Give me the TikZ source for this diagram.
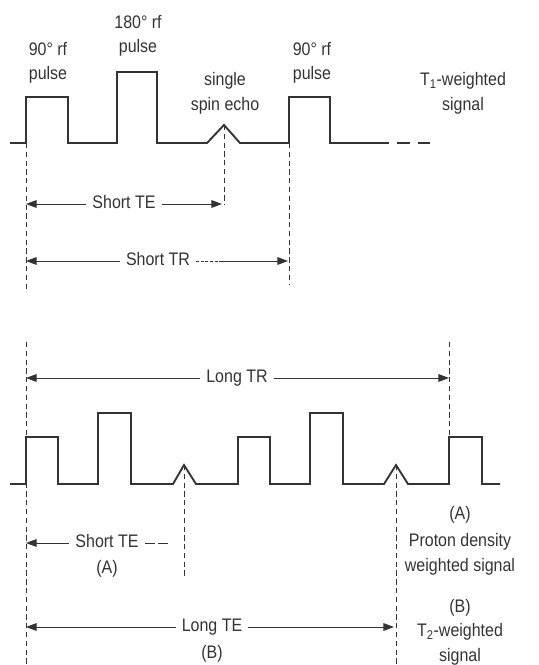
\documentclass[tikz,border=0pt]{standalone}
\usepackage{fontspec}
\setmainfont{Liberation Sans}[FakeStretch=0.88]
\usepackage{tikz}
\usetikzlibrary{arrows.meta,positioning}

\begin{document}
\begin{tikzpicture}[x=0.03cm, y=-0.03cm, font=\fontsize{15.5}{21}\selectfont, color=black!80]
    % Define styles
    \tikzstyle{wave} = [line width=1.6pt, line join=miter]
    \tikzstyle{guide} = [line width=0.6pt, dash pattern=on 4.5pt off 3pt]
    \tikzstyle{dim} = [line width=0.8pt, -{Triangle[length=9pt,width=6.5pt]}]
    \tikzstyle{dimlabel} = [inner xsep=5pt, inner ysep=1pt, text height=0.716em, text depth=0pt]
    \tikzstyle{pulselabel} = [align=center, inner sep=0pt]

    \useasboundingbox (0,0) rectangle (539,665);

    % Short TR sequence (T1-weighted)
    \draw[wave] (10,143) -- (26,143) -- (26,97) -- (68,97) -- (68,143) -- (117,143)
        -- (117,72) -- (157,72) -- (157,143) -- (207,143) -- (224,125) -- (240,143)
        -- (289,143) -- (289,97) -- (330,97) -- (330,143) -- (380,143);
    \draw[wave] (380,143) -- (389,143) (397,143) -- (410,143) (418,143) -- (430,143);

    \node[pulselabel] (p90a) at (48,63) {90° rf\\pulse};
    \node[pulselabel] (p180) at (138,36) {180° rf\\pulse};
    \node[pulselabel] (echo) at (225,93) {single\\spin echo};
    \node[pulselabel] (p90b) at (312,63) {90° rf\\pulse};
    \node[pulselabel] (t1w) at (463,93) {T\textsubscript{1}-weighted\\signal};

    % Guides
    \coordinate (a0) at (26,143);  \coordinate (a1) at (26,290);
    \coordinate (b0) at (224,125); \coordinate (b1) at (224,205);
    \coordinate (c0) at (289,143); \coordinate (c1) at (289,285);
    \draw[guide] (a0) -- (a1);
    \draw[guide] (b0) -- (b1);
    \draw[guide] (c0) -- (c1);

    % Short TE / Short TR
    \coordinate (teSl) at (26,204);  \coordinate (teSr) at (222,204);
    \node[dimlabel] (teS) at (124,204) {Short TE};
    \draw[dim] (teS.west) -- (teSl);
    \draw[dim] (teS.east) -- (teSr);

    \coordinate (trSl) at (26,261);  \coordinate (trSm) at (222,261);  \coordinate (trSr) at (288,261);
    \node[dimlabel] (trS) at (158,261) {Short TR};
    \draw[dim] (trS.west) -- (trSl);
    \draw[line width=0.6pt, dash pattern=on 2.5pt off 1.5pt] (trS.east) -- (trSm);
    \draw[dim] (trSm) -- (trSr);

    % Long TR sequence
    \draw[wave] (10,484) -- (26,484) -- (26,437) -- (58,437) -- (58,484) -- (98,484)
        -- (98,413) -- (131,413) -- (131,484) -- (173,484) -- (184,465) -- (196,484)
        -- (238,484) -- (238,437) -- (270,437) -- (270,484) -- (310,484) -- (310,413)
        -- (343,413) -- (343,484) -- (384,484) -- (396,465) -- (408,484) -- (449,484)
        -- (449,437) -- (482,437) -- (482,484) -- (500,484);

    % Guides
    \coordinate (d0) at (26,342);  \coordinate (d1) at (26,665);
    \coordinate (e0) at (449,342); \coordinate (e1) at (449,437);
    \coordinate (f0) at (184,465); \coordinate (f1) at (184,578);
    \coordinate (g0) at (396,465); \coordinate (g1) at (396,665);
    \draw[guide] (d0) -- (d1);
    \draw[guide] (e0) -- (e1);
    \draw[guide] (f0) -- (f1);
    \draw[guide] (g0) -- (g1);

    % Long TR
    \coordinate (trLl) at (26,378);  \coordinate (trLr) at (449,378);
    \node[dimlabel] (trL) at (237,378) {Long TR};
    \draw[dim] (trL.west) -- (trLl);
    \draw[dim] (trL.east) -- (trLr);

    % Short TE (A)
    \coordinate (teAl) at (26,543);  \coordinate (teAr) at (168,543);
    \node[dimlabel] (teA) at (107,543) {Short TE};
    \node[pulselabel] (teAtag) at (107,569) {(A)};
    \draw[dim] (teA.west) -- (teAl);
    \draw[line width=0.8pt, dash pattern=on 9pt off 2.5pt] (teA.east) -- (teAr);

    % Long TE (B)
    \coordinate (teBl) at (26,627);  \coordinate (teBr) at (394,627);
    \node[dimlabel] (teB) at (212,627) {Long TE};
    \node[pulselabel] (teBtag) at (212,654) {(B)};
    \draw[dim] (teB.west) -- (teBl);
    \draw[dim] (teB.east) -- (teBr);

    % Signals
    \node[pulselabel] (pdw) at (460,541) {(A)\\[2pt]Proton density\\weighted signal};
    \node[pulselabel] (t2w) at (460,632) {(B)\\T\textsubscript{2}-weighted\\signal};

\end{tikzpicture}
\end{document}
